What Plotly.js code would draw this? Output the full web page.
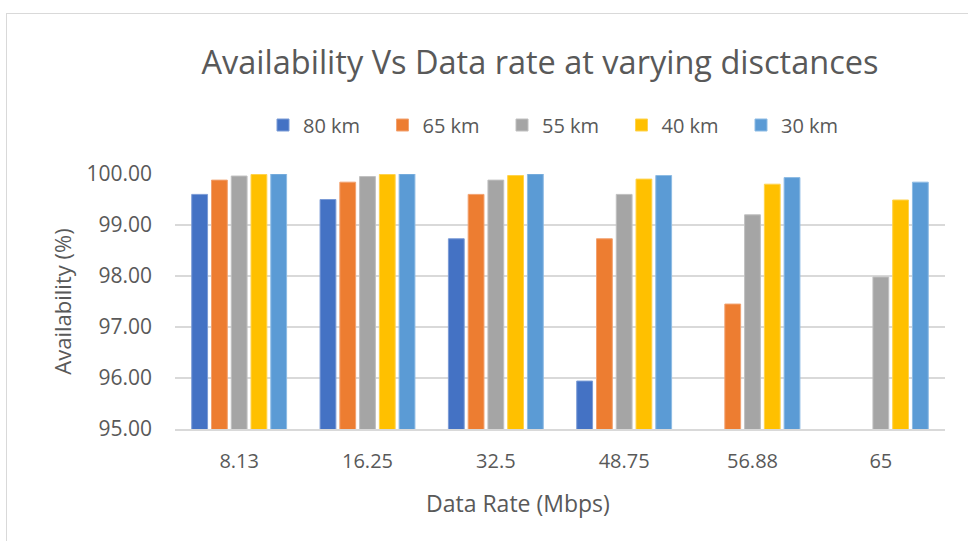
<!DOCTYPE html>
<html>
<head>
<meta charset="utf-8">
<script src="https://cdn.plot.ly/plotly-3.0.1.min.js"></script>
<style>
  html, body { margin: 0; padding: 0; background: #ffffff; overflow: hidden; }
  #frame { position: absolute; left: 6px; top: 13px; width: 1000px; height: 600px; border: 1px solid #d9d9d9; box-sizing: border-box; }
  #chart { position: absolute; left: 0; top: 0; width: 968px; height: 541px; }
</style>
</head>
<body>
<div id="frame"></div>
<div id="chart"></div>
<script>
// Data
const categories = ["8.13", "16.25", "32.5", "48.75", "56.88", "65"];
const seriesNames = ["80 km", "65 km", "55 km", "40 km", "30 km"];
const km80 = [99.60, 99.50, 98.73, 95.94, 94.90, 94.90];
const km65 = [99.88, 99.84, 99.60, 98.73, 97.45, 94.90];
const km55 = [99.96, 99.95, 99.88, 99.60, 99.20, 97.98];
const km40 = [99.99, 99.99, 99.97, 99.90, 99.80, 99.49];
const km30 = [100.00, 100.00, 100.00, 99.97, 99.93, 99.84];
const yTickVals = [95, 96, 97, 98, 99, 100];
const yTickText = ["95.00", "96.00", "97.00", "98.00", "99.00", "100.00"];

const seriesValues = [km80, km65, km55, km40, km30];
const colors = ["#4472C4", "#ED7D31", "#A5A5A5", "#FFC000", "#5B9BD5"];
const lineColors = ["#7b9bd6", "#f2a270", "#c0c0c0", "#ffd34d", "#8dbbe4"];

const traces = seriesNames.map((name, i) => ({
  type: "bar",
  name: name,
  x: categories,
  y: seriesValues[i],
  marker: { color: colors[i], line: { color: lineColors[i], width: 1 } },
  hoverinfo: "x+y+name"
}));

const textColor = "#595959";
const font = "'Open Sans', sans-serif";

const layout = {
  width: 968,
  height: 541,
  paper_bgcolor: "rgba(0,0,0,0)",
  plot_bgcolor: "rgba(0,0,0,0)",
  margin: { l: 175, r: 23, t: 174, b: 112, pad: 0 },
  font: { family: font, color: textColor, size: 21 },
  title: {
    text: "Availability Vs Data rate at varying disctances",
    font: { family: font, size: 32.5, color: textColor },
    x: 540 / 968, xanchor: "center", xref: "container",
    y: 1 - 63 / 541, yanchor: "middle", yref: "container"
  },
  barmode: "group",
  bargap: 0.23,
  bargroupgap: 0.2,
  showlegend: true,
  legend: {
    orientation: "h",
    x: (562 - 175) / 770, xanchor: "center",
    y: (429 - 125) / 255, yanchor: "middle",
    font: { family: font, size: 20, color: textColor },
    itemwidth: 30,
    entrywidth: 74.5,
    entrywidthmode: "pixels",
    traceorder: "normal",
    bgcolor: "rgba(0,0,0,0)"
  },
  xaxis: {
    type: "category",
    showgrid: false,
    showline: true,
    linecolor: "#d9d9d9",
    linewidth: 2,
    ticks: "",
    tickfont: { family: font, size: 20, color: textColor },
    ticklabelstandoff: 13,
    title: { text: "" },
    fixedrange: true
  },
  yaxis: {
    range: [95, 100],
    tickvals: yTickVals,
    ticktext: yTickText,
    showgrid: true,
    gridcolor: "#d9d9d9",
    gridwidth: 1.5,
    zeroline: false,
    showline: false,
    ticks: "",
    ticklabelstandoff: 22,
    tickfont: { family: font, size: 21, color: textColor },
    title: { text: "Availability (%)", font: { family: font, size: 22, color: textColor }, standoff: 8 },
    fixedrange: true
  },
  annotations: [{
    text: "Data Rate (Mbps)",
    xref: "paper", yref: "paper",
    x: (518 - 175) / 770, y: -(503 - 429) / 255,
    xanchor: "center", yanchor: "middle",
    showarrow: false,
    font: { family: font, size: 23, color: textColor }
  }]
};

Plotly.newPlot("chart", traces, layout, { displayModeBar: false, staticPlot: true });
</script>
</body>
</html>
